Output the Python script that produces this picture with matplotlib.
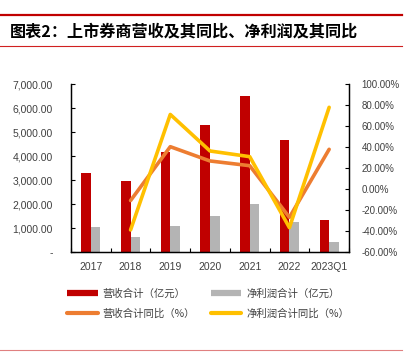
import matplotlib
matplotlib.use("Agg")
import matplotlib.pyplot as plt
from matplotlib.lines import Line2D
from matplotlib.ticker import FuncFormatter
import numpy as np

plt.rcParams['font.family'] = ['Liberation Sans', 'Noto Sans CJK SC', 'DejaVu Sans']

# data
years = ["2017", "2018", "2019", "2020", "2021", "2022", "2023Q1"]
revenue = [3290, 2940, 4150, 5300, 6480, 4680, 1330]          # 营收合计（亿元）
net_profit = [1040, 640, 1100, 1510, 1990, 1260, 430]         # 净利润合计（亿元）
revenue_yoy = [np.nan, -11.0, 40.3, 26.7, 22.2, -27.0, 37.8]  # %
profit_yoy = [np.nan, -39.0, 71.0, 36.2, 30.8, -36.8, 77.8]   # %

RED = "#C00000"
GRAY = "#B4B4B4"
ORANGE = "#ED7D31"
YELLOW = "#FFC000"
TXT = "#404040"
CJK = ['Noto Sans CJK SC', 'DejaVu Sans']

W, H = 414, 358
fig = plt.figure(figsize=(W / 100, H / 100), dpi=100)

# header / footer rules
fig.add_artist(Line2D([0, 402 / W], [1 - 15 / H] * 2, color="#C00000", lw=1.6))
fig.add_artist(Line2D([0, 402 / W], [1 - 46 / H] * 2, color="#D02020", lw=0.8))
fig.add_artist(Line2D([0, 402 / W], [1 - 350 / H] * 2, color="#E08080", lw=0.8))
fig.text(10 / W, 1 - 31 / H, "图表2：上市券商营收及其同比、净利润及其同比",
         family=CJK, fontsize=11.6, fontweight="bold", va="center", ha="left", color="black")

left, right, top, bottom = 71, 349, 84, 252
ax = fig.add_axes([left / W, 1 - bottom / H, (right - left) / W, (bottom - top) / H])
ax2 = ax.twinx()

x = np.arange(len(years))
bw = 0.24
ax.bar(x - bw / 2, revenue, bw, color=RED, zorder=2)
ax.bar(x + bw / 2, net_profit, bw, color=GRAY, zorder=2)
ax.set_xlim(-0.5, len(years) - 0.5)
ax.set_ylim(0, 7000)
ax.set_yticks(np.arange(0, 7001, 1000))
ax.yaxis.set_major_formatter(FuncFormatter(lambda v, p: "-" if v == 0 else f"{v:,.2f}"))
ax.set_xticks(x)
ax.set_xticklabels(years)
ax.set_xticks(np.arange(-0.5, len(years), 1), minor=True)
ax.tick_params(axis="x", which="major", length=0, pad=7, labelsize=7.5, colors=TXT)
ax.tick_params(axis="x", which="minor", direction="in", length=3, width=0.8)
ax.tick_params(axis="y", direction="in", length=3, width=0.8, pad=13, labelsize=7.5, colors=TXT)
ax.tick_params(axis="y", color="black")

ax2.plot(x, revenue_yoy, color=ORANGE, lw=2.6, solid_capstyle="round", solid_joinstyle="round", zorder=3)
ax2.plot(x, profit_yoy, color=YELLOW, lw=2.6, solid_capstyle="round", solid_joinstyle="round", zorder=4)
ax2.set_ylim(-60, 100)
ax2.set_yticks(np.arange(-60, 101, 20))
ax2.yaxis.set_major_formatter(FuncFormatter(lambda v, p: f"{v:.2f}%"))
ax2.tick_params(axis="y", direction="in", length=3, width=0.8, pad=9, labelsize=7, colors=TXT)
ax2.tick_params(axis="y", color="black")

for a in (ax, ax2):
    a.spines["top"].set_visible(False)
    for s in ("left", "right", "bottom"):
        a.spines[s].set_linewidth(0.9)
        a.spines[s].set_color("black")

handles = [
    Line2D([], [], color=RED, lw=4.5, solid_capstyle="butt"),
    Line2D([], [], color=ORANGE, lw=3, solid_capstyle="round"),
    Line2D([], [], color=GRAY, lw=4.5, solid_capstyle="butt"),
    Line2D([], [], color=YELLOW, lw=3, solid_capstyle="round"),
]
labels = ["营收合计（亿元）", "营收合计同比（%）", "净利润合计（亿元）", "净利润合计同比（%）"]
leg = fig.legend(handles, labels, ncol=2, loc="upper left",
                 bbox_to_anchor=(58 / W, 1 - 279 / H), frameon=False,
                 prop={"family": CJK, "size": 7.5}, handlelength=2.9,
                 handletextpad=0.5, columnspacing=1.5, labelspacing=0.9)
for t in leg.get_texts():
    t.set_color(TXT)

fig.savefig("out.png", dpi=100)
